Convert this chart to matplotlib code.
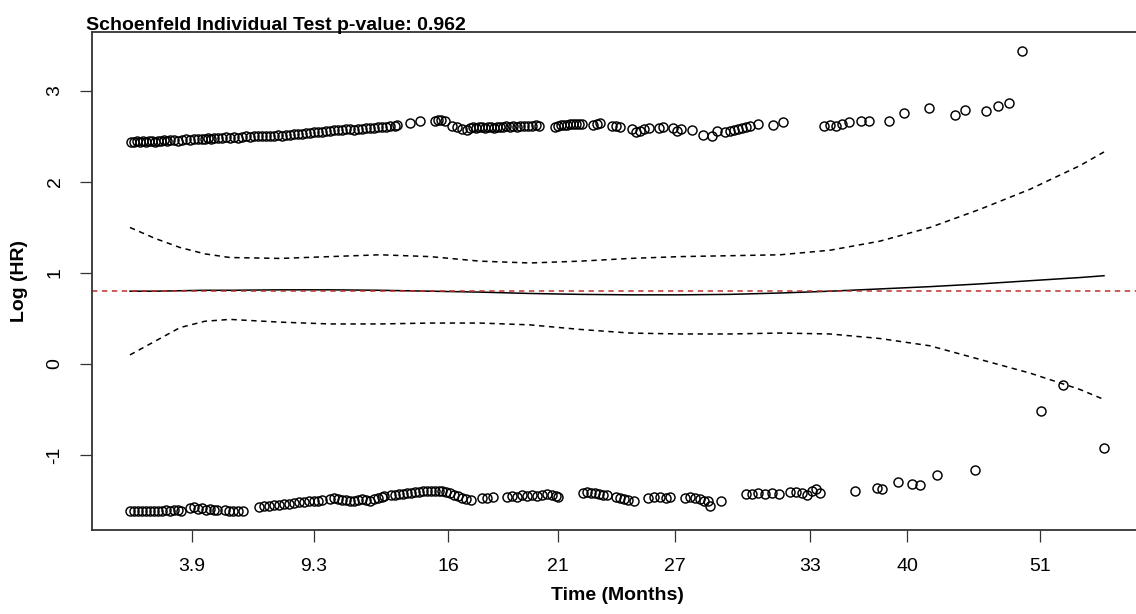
import matplotlib.pyplot as plt

plt.rcParams['font.family'] = ['Liberation Sans', 'DejaVu Sans']

# eixo x transformado (escala km), rótulos em meses
tick_pos = [62, 184, 318, 428, 545, 680, 777, 910]
tick_lab = ['3.9', '9.3', '16', '21', '27', '33', '40', '51']

# resíduos de Schoenfeld - faixa superior
top_x = [1, 4, 7, 10, 13, 16, 19, 22, 25, 28, 31, 34, 37, 40, 44, 48, 52, 56, 60, 64, 68,
         72, 75, 78, 81, 84, 88, 92, 96, 100, 104, 108, 112, 116, 120, 124, 128, 132, 136,
         140, 144, 148, 152, 156, 160, 164, 168, 172, 176, 180, 184, 188,
         192, 196, 200, 204, 208, 212, 216, 220, 224, 228, 232, 236, 240, 244, 248, 252,
         256, 260, 265, 267, 280, 290,
         305, 308, 311, 315, 322, 327, 332, 337,
         340, 343, 346, 349, 352, 355, 358, 361, 364, 367, 370, 373, 376, 380, 383, 387,
         390, 394, 398, 402, 406, 409,
         425, 428, 431, 434, 437, 440, 443, 446, 449, 452, 463, 467, 470, 482, 486, 490,
         502, 506, 510, 514, 519, 529, 533, 543, 547, 551, 562, 573, 582, 587,
         595, 600, 604, 608, 612, 616, 620, 628, 643, 653,
         694, 700, 706, 712, 719, 731, 739, 759, 774, 799, 825, 835, 856, 868, 879, 892]
top_y = [2.44, 2.44, 2.45, 2.44, 2.45, 2.44, 2.45, 2.45, 2.44, 2.45, 2.45, 2.46, 2.45, 2.46,
         2.46, 2.45, 2.46, 2.47, 2.46, 2.47, 2.47,
         2.47, 2.47, 2.48, 2.47, 2.48, 2.48, 2.48, 2.49, 2.48, 2.49, 2.48, 2.49, 2.50, 2.49,
         2.50, 2.50, 2.51, 2.50, 2.51, 2.51, 2.52, 2.51, 2.52, 2.52, 2.53, 2.53, 2.53, 2.54,
         2.54, 2.55, 2.55,
         2.55, 2.56, 2.56, 2.57, 2.57, 2.57, 2.58, 2.58, 2.57, 2.58, 2.58, 2.59, 2.59, 2.59,
         2.60, 2.60, 2.60, 2.61, 2.61, 2.63, 2.65, 2.67,
         2.67, 2.68, 2.68, 2.67, 2.62, 2.60, 2.58, 2.57,
         2.59, 2.60, 2.59, 2.60, 2.60, 2.59, 2.60, 2.60, 2.59, 2.60, 2.60, 2.60, 2.61, 2.60,
         2.61, 2.60, 2.61, 2.62, 2.61, 2.62, 2.63, 2.62,
         2.60, 2.62, 2.63, 2.63, 2.63, 2.64, 2.64, 2.64, 2.64, 2.64, 2.63, 2.64, 2.65, 2.62,
         2.61, 2.60,
         2.58, 2.55, 2.56, 2.58, 2.59, 2.59, 2.60, 2.59, 2.56, 2.58, 2.57, 2.52, 2.50, 2.56,
         2.55, 2.56, 2.57, 2.58, 2.59, 2.60, 2.61, 2.64, 2.63, 2.66,
         2.62, 2.63, 2.62, 2.64, 2.66, 2.67, 2.67, 2.67, 2.76, 2.81, 2.74, 2.79, 2.78, 2.83,
         2.87, 3.44]

# resíduos de Schoenfeld - faixa inferior
bot_x = [0, 4, 8, 12, 16, 20, 24, 28, 32, 36, 40, 44, 48, 51,
         60, 64, 68, 72, 76, 80, 84, 87, 95, 99, 103, 108, 113,
         129, 134, 139, 144, 149, 154, 159, 164, 169, 174, 179, 184, 188, 192,
         200, 204, 208, 212, 216, 220, 224, 228, 232, 236, 240, 244, 248, 252, 254,
         261, 265, 269, 273, 277, 281, 285, 289, 293, 297, 301, 305, 309, 312,
         316, 320, 324, 328, 332, 336, 341, 352, 357, 363,
         377, 382, 387, 392, 397, 402, 407, 412, 417, 422, 426, 428,
         453, 457, 461, 465, 469, 473, 477, 486, 490, 494, 498, 504,
         518, 524, 530, 536, 540, 555, 560, 565, 570, 574, 578, 580, 591,
         616, 622, 628, 635, 642, 649, 660, 666, 672, 677, 682, 686, 690,
         725, 747, 752, 768, 782, 790, 807, 845, 911, 933, 974]
bot_y = [-1.62, -1.62, -1.61, -1.62, -1.61, -1.61, -1.62, -1.61, -1.61, -1.60, -1.61, -1.60,
         -1.60, -1.61,
         -1.58, -1.57, -1.59, -1.58, -1.60, -1.59, -1.60, -1.60, -1.60, -1.61, -1.62, -1.61,
         -1.61,
         -1.57, -1.56, -1.56, -1.55, -1.55, -1.54, -1.54, -1.53, -1.52, -1.52, -1.51, -1.50,
         -1.50, -1.49,
         -1.48, -1.47, -1.48, -1.49, -1.49, -1.50, -1.50, -1.49, -1.48, -1.49, -1.50, -1.48,
         -1.47, -1.46, -1.45,
         -1.44, -1.44, -1.43, -1.43, -1.42, -1.42, -1.41, -1.41, -1.40, -1.40, -1.40, -1.39,
         -1.40, -1.40,
         -1.41, -1.42, -1.44, -1.45, -1.47, -1.48, -1.49, -1.47, -1.47, -1.46,
         -1.46, -1.45, -1.46, -1.44, -1.45, -1.44, -1.45, -1.44, -1.43, -1.44, -1.45, -1.46,
         -1.42, -1.41, -1.42, -1.42, -1.43, -1.44, -1.44, -1.46, -1.47, -1.48, -1.49, -1.50,
         -1.47, -1.46, -1.46, -1.47, -1.46, -1.47, -1.46, -1.47, -1.48, -1.50, -1.51, -1.56,
         -1.51,
         -1.43, -1.43, -1.42, -1.43, -1.42, -1.43, -1.41, -1.41, -1.42, -1.44, -1.40, -1.37,
         -1.42,
         -1.39, -1.36, -1.37, -1.30, -1.32, -1.33, -1.22, -1.16, -0.52, -0.23, -0.92]

# curva suavizada e intervalo de confiança
fit_x = [0, 25, 50, 75, 100, 150, 200, 250, 300, 350, 400, 450, 500, 550, 600, 650, 700,
         750, 800, 850, 900, 950, 974]
fit_y = [0.80, 0.80, 0.805, 0.81, 0.81, 0.815, 0.815, 0.81, 0.80, 0.79, 0.775, 0.765, 0.76,
         0.76, 0.765, 0.78, 0.80, 0.825, 0.85, 0.88, 0.915, 0.95, 0.97]
upper = [1.50, 1.38, 1.28, 1.21, 1.17, 1.16, 1.18, 1.20, 1.18, 1.13, 1.11, 1.13, 1.16, 1.18,
         1.19, 1.20, 1.25, 1.35, 1.50, 1.70, 1.92, 2.18, 2.33]
lower = [0.10, 0.25, 0.40, 0.47, 0.49, 0.46, 0.44, 0.44, 0.45, 0.45, 0.43, 0.38, 0.34, 0.33,
         0.33, 0.34, 0.33, 0.28, 0.20, 0.05, -0.10, -0.28, -0.39]
coef = 0.80

fig = plt.figure(figsize=(11.36, 6.14), dpi=100)
ax = fig.add_axes([92 / 1136, 84 / 614, 1051 / 1136, 498 / 614])

ax.plot(top_x, top_y, 'o', ms=6.5, mfc='none', mec='black', mew=1.05, clip_on=False)
ax.plot(bot_x, bot_y, 'o', ms=6.5, mfc='none', mec='black', mew=1.05, clip_on=False)
ax.plot(fit_x, fit_y, color='black', lw=1.1)
ax.plot(fit_x, upper, color='black', lw=1.1, dashes=(3.5, 3))
ax.plot(fit_x, lower, color='black', lw=1.1, dashes=(3.5, 3))
ax.axhline(coef, color='#b8322a', lw=1.1, dashes=(3.5, 3))

ax.set_xlim(-38, 1013)
ax.set_ylim(-1.824, 3.648)
ax.set_xticks(tick_pos)
ax.set_xticklabels(tick_lab)
ax.set_yticks([-1, 0, 1, 2, 3])
ax.set_yticklabels(['-1', '0', '1', '2', '3'])
ax.tick_params(length=8.5, width=0.9, pad=12, labelsize=14, color='#333333')
for lab in ax.get_yticklabels():
    lab.set_rotation(90)
    lab.set_va('center')
for sp in ax.spines.values():
    sp.set_linewidth(1.3)
    sp.set_color('#333333')

fig.text(86 / 1136, 1 - 30 / 614, 'Schoenfeld Individual Test p-value: 0.962',
         fontsize=14, fontweight='bold', va='baseline', ha='left')
fig.text(617 / 1136, 1 - 600 / 614, 'Time (Months)', fontsize=14, fontweight='bold',
         va='baseline', ha='center')
fig.text(20 / 1136, 1 - 281 / 614, 'Log (HR)', fontsize=14, fontweight='bold',
         va='center', ha='center', rotation=90)

fig.savefig('out.png', dpi=100)
